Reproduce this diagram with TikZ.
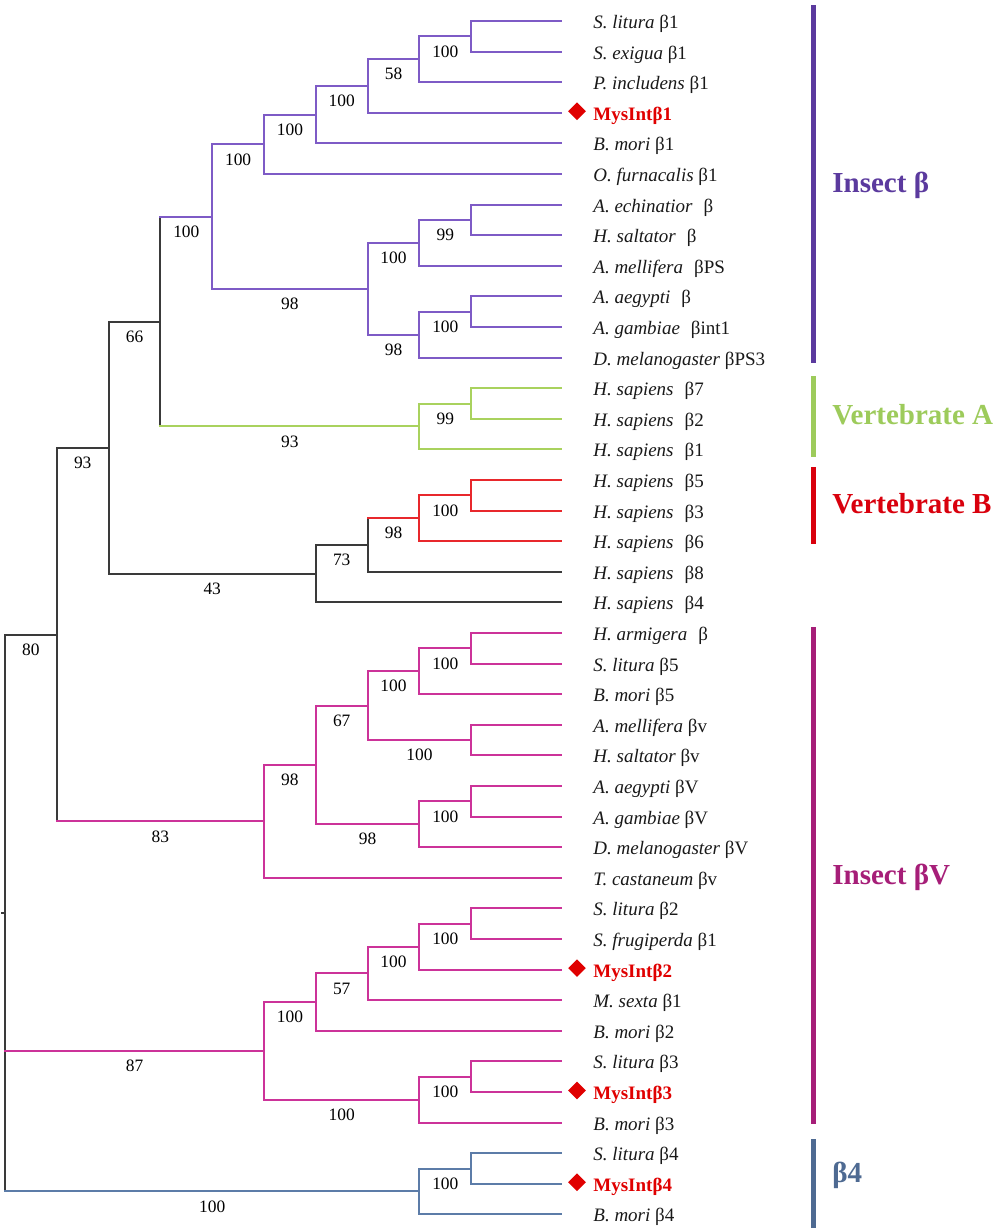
\documentclass[tikz,border=0pt]{standalone}
\usepackage{fontspec}
\setmainfont{Liberation Serif}
\usetikzlibrary{calc,shapes.geometric}
\definecolor{cpur}{HTML}{7E5BC6}
\definecolor{cpurd}{HTML}{5B3A9E}
\definecolor{cgrn}{HTML}{A9D25E}
\definecolor{cgrnd}{HTML}{9DCB5B}
\definecolor{cred}{HTML}{E8282C}
\definecolor{credd}{HTML}{D9000D}
\definecolor{cmag}{HTML}{CC3399}
\definecolor{cmagd}{HTML}{A61E78}
\definecolor{cblu}{HTML}{5C7CA8}
\definecolor{cblud}{HTML}{4E6A92}
\definecolor{cblk}{HTML}{3A3A3A}
\definecolor{cmys}{HTML}{E00000}
\newcommand{\gapx}{\hspace{0.58em}}
\newcommand{\tvt}[4]{\draw[#1] (#2 |- #3) -- (#2 |- #4);}
\newcommand{\tbr}[3]{\draw[#1] (#2 |- #3) -- (#3);}
\newcommand{\tbs}[4]{\node[bs] (#1) at ($(#2 |- #3)!0.5!(#3)+(0,15)$) {#4};}
\begin{document}
\begin{tikzpicture}[x=0.5pt,y=-0.5pt,
  br/.style={line width=1pt,line cap=rect},
  pur/.style={br,draw=cpur},
  grn/.style={br,draw=cgrn},
  rd/.style={br,draw=cred},
  mag/.style={br,draw=cmag},
  blu/.style={br,draw=cblu},
  blk/.style={br,draw=cblk},
  bs/.style={inner sep=0pt,font=\fontsize{8.7}{10}\selectfont,text=black},
  leaf/.style={anchor=base west,inner sep=0pt,font=\fontsize{9.5}{11}\selectfont,text=black!90},
  mys/.style={leaf,font=\fontsize{9.5}{11}\selectfont\bfseries,text=cmys},
  dia/.style={diamond,fill=cmys,inner sep=0pt,minimum width=9pt,minimum height=9pt},
  grp/.style={anchor=base west,inner sep=0pt,font=\fontsize{14.5}{17}\selectfont\bfseries},
  bar/.style={line width=2.5pt}
]
\useasboundingbox (0,0) rectangle (1000,1232);
\fill[white] (0,0) rectangle (1000,1232);
% leaves
\foreach \i in {1,...,40} \coordinate (l\i) at (561,{21+30.6*(\i-1)});
% internal nodes
\coordinate (n1) at (471.2,36.3);
\coordinate (n2) at (419.4,59.25);
\coordinate (n3) at (367.6,86.0);
\coordinate (n4) at (315.8,114.7);
\coordinate (n5) at (264,144.35);
\coordinate (n6) at (471.2,219.9);
\coordinate (n7) at (419.4,242.85);
\coordinate (n8) at (471.2,311.7);
\coordinate (n9) at (419.4,334.65);
\coordinate (n10) at (367.6,288.75);
\coordinate (n11) at (212.2,216.55);
\coordinate (n12) at (471.2,403.5);
\coordinate (n13) at (419.4,426.45);
\coordinate (n14) at (160.4,321.5);
\coordinate (n15) at (471.2,495.3);
\coordinate (n16) at (419.4,518.25);
\coordinate (n17) at (367.6,545.0);
\coordinate (n18) at (315.8,573.7);
\coordinate (n19) at (108.6,447.6);
\coordinate (n20) at (471.2,648.3);
\coordinate (n21) at (419.4,671.25);
\coordinate (n22) at (471.2,740.1);
\coordinate (n23) at (367.6,705.7);
\coordinate (n24) at (471.2,801.3);
\coordinate (n25) at (419.4,824.25);
\coordinate (n26) at (315.8,765.0);
\coordinate (n27) at (264,821.4);
\coordinate (n28) at (56.8,634.5);
\coordinate (n29) at (471.2,923.7);
\coordinate (n30) at (419.4,946.65);
\coordinate (n31) at (367.6,973.4);
\coordinate (n32) at (315.8,1002.1);
\coordinate (n33) at (471.2,1076.7);
\coordinate (n34) at (419.4,1099.65);
\coordinate (n35) at (264,1050.9);
\coordinate (n37) at (471.2,1168.5);
\coordinate (n38) at (419.4,1191.45);
\coordinate (r) at (5,913);
\coordinate (rt) at (1.5,913);
% verticals
\tvt{pur}{n1}{l1}{l2}\tvt{pur}{n2}{n1}{l3}\tvt{pur}{n3}{n2}{l4}\tvt{pur}{n4}{n3}{l5}
\tvt{pur}{n5}{n4}{l6}\tvt{pur}{n6}{l7}{l8}\tvt{pur}{n7}{n6}{l9}\tvt{pur}{n8}{l10}{l11}
\tvt{pur}{n9}{n8}{l12}\tvt{pur}{n10}{n7}{n9}\tvt{pur}{n11}{n5}{n10}
\tvt{grn}{n12}{l13}{l14}\tvt{grn}{n13}{n12}{l15}
\tvt{blk}{n14}{n11}{n13}
\tvt{rd}{n15}{l16}{l17}\tvt{rd}{n16}{n15}{l18}
\tvt{blk}{n17}{n16}{l19}\tvt{blk}{n18}{n17}{l20}\tvt{blk}{n19}{n14}{n18}
\tvt{mag}{n20}{l21}{l22}\tvt{mag}{n21}{n20}{l23}\tvt{mag}{n22}{l24}{l25}\tvt{mag}{n23}{n21}{n22}
\tvt{mag}{n24}{l26}{l27}\tvt{mag}{n25}{n24}{l28}\tvt{mag}{n26}{n23}{n25}\tvt{mag}{n27}{n26}{l29}
\tvt{blk}{n28}{n19}{n27}
\tvt{mag}{n29}{l30}{l31}\tvt{mag}{n30}{n29}{l32}\tvt{mag}{n31}{n30}{l33}\tvt{mag}{n32}{n31}{l34}
\tvt{mag}{n33}{l35}{l36}\tvt{mag}{n34}{n33}{l37}\tvt{mag}{n35}{n32}{n34}
\tvt{blu}{n37}{l38}{l39}\tvt{blu}{n38}{n37}{l40}
\tvt{blk}{r}{n28}{n38}
\draw[blk] (rt) -- (r);
% horizontal branches
\tbr{pur}{n1}{l1}\tbr{pur}{n1}{l2}\tbr{pur}{n2}{n1}\tbr{pur}{n2}{l3}\tbr{pur}{n3}{n2}\tbr{pur}{n3}{l4}
\tbr{pur}{n4}{n3}\tbr{pur}{n4}{l5}\tbr{pur}{n5}{n4}\tbr{pur}{n5}{l6}\tbr{pur}{n6}{l7}\tbr{pur}{n6}{l8}
\tbr{pur}{n7}{n6}\tbr{pur}{n7}{l9}\tbr{pur}{n8}{l10}\tbr{pur}{n8}{l11}\tbr{pur}{n9}{n8}\tbr{pur}{n9}{l12}
\tbr{pur}{n10}{n7}\tbr{pur}{n10}{n9}\tbr{pur}{n11}{n5}\tbr{pur}{n11}{n10}\tbr{pur}{n14}{n11}
\tbr{grn}{n12}{l13}\tbr{grn}{n12}{l14}\tbr{grn}{n13}{n12}\tbr{grn}{n13}{l15}\tbr{grn}{n14}{n13}
\tbr{blk}{n19}{n14}
\tbr{rd}{n15}{l16}\tbr{rd}{n15}{l17}\tbr{rd}{n16}{n15}\tbr{rd}{n16}{l18}\tbr{rd}{n17}{n16}
\tbr{blk}{n17}{l19}\tbr{blk}{n18}{n17}\tbr{blk}{n18}{l20}\tbr{blk}{n19}{n18}\tbr{blk}{r}{n28}\tbr{blk}{n28}{n19}
\tbr{mag}{n20}{l21}\tbr{mag}{n20}{l22}\tbr{mag}{n21}{n20}\tbr{mag}{n21}{l23}\tbr{mag}{n22}{l24}\tbr{mag}{n22}{l25}
\tbr{mag}{n23}{n21}\tbr{mag}{n23}{n22}\tbr{mag}{n24}{l26}\tbr{mag}{n24}{l27}\tbr{mag}{n25}{n24}\tbr{mag}{n25}{l28}
\tbr{mag}{n26}{n23}\tbr{mag}{n26}{n25}\tbr{mag}{n27}{n26}\tbr{mag}{n27}{l29}\tbr{mag}{n28}{n27}
\tbr{mag}{n29}{l30}\tbr{mag}{n29}{l31}\tbr{mag}{n30}{n29}\tbr{mag}{n30}{l32}\tbr{mag}{n31}{n30}\tbr{mag}{n31}{l33}
\tbr{mag}{n32}{n31}\tbr{mag}{n32}{l34}\tbr{mag}{n33}{l35}\tbr{mag}{n33}{l36}\tbr{mag}{n34}{n33}\tbr{mag}{n34}{l37}
\tbr{mag}{n35}{n32}\tbr{mag}{n35}{n34}\tbr{mag}{r}{n35}
\tbr{blu}{n37}{l38}\tbr{blu}{n37}{l39}\tbr{blu}{n38}{n37}\tbr{blu}{n38}{l40}\tbr{blu}{r}{n38}
% bootstrap values
\tbs{b1}{n2}{n1}{100}\tbs{b2}{n3}{n2}{58}\tbs{b3}{n4}{n3}{100}\tbs{b4}{n5}{n4}{100}
\tbs{b5}{n11}{n5}{100}\tbs{b6}{n7}{n6}{99}\tbs{b7}{n10}{n7}{100}\tbs{b8}{n9}{n8}{100}
\tbs{b9}{n10}{n9}{98}\tbs{b10}{n11}{n10}{98}\tbs{b11}{n14}{n11}{100}\tbs{b12}{n13}{n12}{99}
\tbs{b13}{n14}{n13}{93}\tbs{b14}{n19}{n14}{66}\tbs{b15}{n16}{n15}{100}\tbs{b16}{n17}{n16}{98}
\tbs{b17}{n18}{n17}{73}\tbs{b18}{n19}{n18}{43}\tbs{b19}{n28}{n19}{93}\tbs{b20}{r}{n28}{80}
\tbs{b21}{n21}{n20}{100}\tbs{b22}{n23}{n21}{100}\tbs{b23}{n23}{n22}{100}\tbs{b24}{n26}{n23}{67}
\tbs{b25}{n25}{n24}{100}\tbs{b26}{n26}{n25}{98}\tbs{b27}{n27}{n26}{98}\tbs{b28}{n28}{n27}{83}
\tbs{b29}{n30}{n29}{100}\tbs{b30}{n31}{n30}{100}\tbs{b31}{n32}{n31}{57}\tbs{b32}{n35}{n32}{100}
\tbs{b33}{n34}{n33}{100}\tbs{b34}{n35}{n34}{100}\tbs{b35}{r}{n35}{87}
\tbs{b36}{n38}{n37}{100}\tbs{b37}{r}{n38}{100}
% leaf labels
\node[leaf] (t1) at ($(l1)+(32,7.5)$) {\textit{S. litura} β1};
\node[leaf] (t2) at ($(l2)+(32,7.5)$) {\textit{S. exigua} β1};
\node[leaf] (t3) at ($(l3)+(32,7.5)$) {\textit{P. includens} β1};
\node[mys] (t4) at ($(l4)+(32,7.5)$) {MysIntβ1};
\node[leaf] (t5) at ($(l5)+(32,7.5)$) {\textit{B. mori} β1};
\node[leaf] (t6) at ($(l6)+(32,7.5)$) {\textit{O. furnacalis} β1};
\node[leaf] (t7) at ($(l7)+(32,7.5)$) {\textit{A. echinatior}\gapx β};
\node[leaf] (t8) at ($(l8)+(32,7.5)$) {\textit{H. saltator}\gapx β};
\node[leaf] (t9) at ($(l9)+(32,7.5)$) {\textit{A. mellifera}\gapx βPS};
\node[leaf] (t10) at ($(l10)+(32,7.5)$) {\textit{A. aegypti}\gapx β};
\node[leaf] (t11) at ($(l11)+(32,7.5)$) {\textit{A. gambiae}\gapx βint1};
\node[leaf] (t12) at ($(l12)+(32,7.5)$) {\textit{D. melanogaster} βPS3};
\node[leaf] (t13) at ($(l13)+(32,7.5)$) {\textit{H. sapiens}\gapx β7};
\node[leaf] (t14) at ($(l14)+(32,7.5)$) {\textit{H. sapiens}\gapx β2};
\node[leaf] (t15) at ($(l15)+(32,7.5)$) {\textit{H. sapiens}\gapx β1};
\node[leaf] (t16) at ($(l16)+(32,7.5)$) {\textit{H. sapiens}\gapx β5};
\node[leaf] (t17) at ($(l17)+(32,7.5)$) {\textit{H. sapiens}\gapx β3};
\node[leaf] (t18) at ($(l18)+(32,7.5)$) {\textit{H. sapiens}\gapx β6};
\node[leaf] (t19) at ($(l19)+(32,7.5)$) {\textit{H. sapiens}\gapx β8};
\node[leaf] (t20) at ($(l20)+(32,7.5)$) {\textit{H. sapiens}\gapx β4};
\node[leaf] (t21) at ($(l21)+(32,7.5)$) {\textit{H. armigera}\gapx β};
\node[leaf] (t22) at ($(l22)+(32,7.5)$) {\textit{S. litura} β5};
\node[leaf] (t23) at ($(l23)+(32,7.5)$) {\textit{B. mori} β5};
\node[leaf] (t24) at ($(l24)+(32,7.5)$) {\textit{A. mellifera} βv};
\node[leaf] (t25) at ($(l25)+(32,7.5)$) {\textit{H. saltator} βv};
\node[leaf] (t26) at ($(l26)+(32,7.5)$) {\textit{A. aegypti} βV};
\node[leaf] (t27) at ($(l27)+(32,7.5)$) {\textit{A. gambiae} βV};
\node[leaf] (t28) at ($(l28)+(32,7.5)$) {\textit{D. melanogaster} βV};
\node[leaf] (t29) at ($(l29)+(32,7.5)$) {\textit{T. castaneum} βv};
\node[leaf] (t30) at ($(l30)+(32,7.5)$) {\textit{S. litura} β2};
\node[leaf] (t31) at ($(l31)+(32,7.5)$) {\textit{S. frugiperda} β1};
\node[mys] (t32) at ($(l32)+(32,7.5)$) {MysIntβ2};
\node[leaf] (t33) at ($(l33)+(32,7.5)$) {\textit{M. sexta} β1};
\node[leaf] (t34) at ($(l34)+(32,7.5)$) {\textit{B. mori} β2};
\node[leaf] (t35) at ($(l35)+(32,7.5)$) {\textit{S. litura} β3};
\node[mys] (t36) at ($(l36)+(32,7.5)$) {MysIntβ3};
\node[leaf] (t37) at ($(l37)+(32,7.5)$) {\textit{B. mori} β3};
\node[leaf] (t38) at ($(l38)+(32,7.5)$) {\textit{S. litura} β4};
\node[mys] (t39) at ($(l39)+(32,7.5)$) {MysIntβ4};
\node[leaf] (t40) at ($(l40)+(32,7.5)$) {\textit{B. mori} β4};
% diamonds
\node[dia] (d1) at ($(l4)+(16,-1.5)$) {};
\node[dia] (d2) at ($(l32)+(16,-1.5)$) {};
\node[dia] (d3) at ($(l36)+(16,-1.5)$) {};
\node[dia] (d4) at ($(l39)+(16,-1.5)$) {};
% group bars
\draw[bar,cpurd] (813.5,5) -- (813.5,363);
\draw[bar,cgrnd] (813.5,376) -- (813.5,457);
\draw[bar,credd] (813.5,467) -- (813.5,544);
\draw[bar,cmagd] (813.5,627) -- (813.5,1124);
\draw[bar,cblud] (813.5,1139) -- (813.5,1228);
\node[grp,text=cpurd] (g1) at (832,192) {Insect β};
\node[grp,text=cgrnd] (g2) at (832,424) {Vertebrate A};
\node[grp,text=credd] (g3) at (832,513) {Vertebrate B};
\node[grp,text=cmagd] (g4) at (832,884) {Insect βV};
\node[grp,text=cblud] (g5) at (832,1182) {β4};
\end{tikzpicture}
\end{document}
